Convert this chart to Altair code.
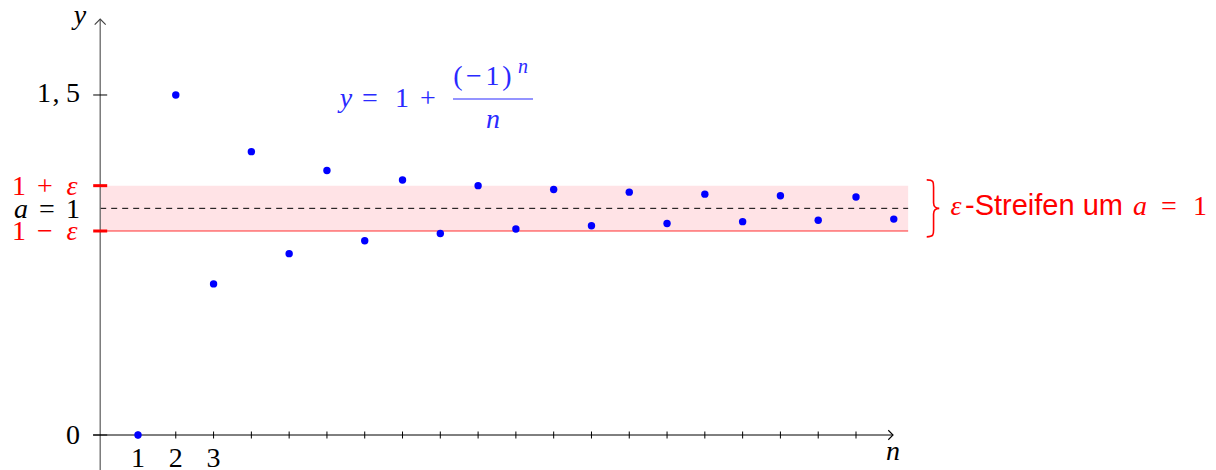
import altair as alt
import pandas as pd

# ---------------- data ----------------
n_values = list(range(1, 22))
y_values = [0.0, 1.5, 0.6667, 1.25, 0.8, 1.1667, 0.8571, 1.125, 0.8889, 1.1,
            0.9091, 1.0833, 0.9231, 1.0714, 0.9333, 1.0625, 0.9412, 1.0556,
            0.9474, 1.05, 0.9524]
a_value = 1.0
epsilon = 0.1
x_tick_values = list(range(1, 21))
x_tick_labels = ["1", "2", "3"]
y_tick_values = [0.0, 1.5]
band_end = 21.38
x_axis_start = -0.19
x_axis_end = 20.98
y_axis_top = 1.835

# ---------------- layout (pixel <-> data) ----------------
ORIGIN_X, PX_X = 100.2, 37.79
ORIGIN_Y, PX_Y = 435.0, 226.67
W, H = 1200, 462


def dx(px):
    return (px - ORIGIN_X) / PX_X


def dy(py):
    return (ORIGIN_Y - py) / PX_Y


XMIN, XMAX = dx(8), dx(8 + W)
YMAX, YMIN = dy(8), dy(8 + H)

xs = alt.Scale(domain=[XMIN, XMAX], nice=False, zero=False)
ys = alt.Scale(domain=[YMIN, YMAX], nice=False, zero=False)
X = alt.X("x:Q", scale=xs, axis=None)
Y = alt.Y("y:Q", scale=ys, axis=None)

RED = "#ff0000"
BLUE = "#0000ff"
FBLUE = "#2a2aff"
SERIF = "Liberation Serif"
SANS = "Liberation Sans"

layers = []

# epsilon band
band = pd.DataFrame({"x": [0.0], "x2": [band_end], "y": [a_value - epsilon], "y2": [a_value + epsilon]})
layers.append(alt.Chart(band).mark_rect(color="#ffe3e6").encode(
    x=X, x2="x2:Q", y=Y, y2="y2:Q"))

# lower band edge
low = pd.DataFrame({"x": [0.0], "x2": [band_end], "y": [a_value - epsilon]})
layers.append(alt.Chart(low).mark_rule(color="#ff3030", strokeWidth=1).encode(x=X, x2="x2:Q", y=Y))

# dashed a-line
aline = pd.DataFrame({"x": [0.0], "x2": [band_end], "y": [a_value]})
layers.append(alt.Chart(aline).mark_rule(color="black", strokeWidth=1, strokeDash=[6, 5]).encode(
    x=X, x2="x2:Q", y=Y))

# y axis
yax = pd.DataFrame({"x": [0.0], "y": [YMIN], "y2": [y_axis_top]})
layers.append(alt.Chart(yax).mark_rule(color="#666666", strokeWidth=1.3).encode(x=X, y=Y, y2="y2:Q"))
yarr = pd.DataFrame({"x": [0.0], "y": [y_axis_top]})
layers.append(alt.Chart(yarr).mark_point(shape="M -1 1 L 0 0 L 1 1", filled=False, color="#444444",
                                         strokeWidth=1.2, size=121, opacity=1).encode(x=X, y=Y))

# x axis
xax = pd.DataFrame({"x": [x_axis_start], "x2": [x_axis_end], "y": [0.0]})
layers.append(alt.Chart(xax).mark_rule(color="black", strokeWidth=1).encode(x=X, x2="x2:Q", y=Y))
xarr = pd.DataFrame({"x": [x_axis_end], "y": [0.0]})
layers.append(alt.Chart(xarr).mark_point(shape="M -1 -1 L 0 0 L -1 1", filled=False, color="black",
                                         strokeWidth=1.1, size=90, opacity=1).encode(x=X, y=Y))

# x ticks
xt = pd.DataFrame({"x": x_tick_values})
xt["y"] = -3.5 / PX_Y
xt["y2"] = 3.5 / PX_Y
layers.append(alt.Chart(xt).mark_rule(color="black", strokeWidth=1).encode(x=X, y=Y, y2="y2:Q"))

# y ticks
yt = pd.DataFrame({"y": y_tick_values})
yt["x"] = -7 / PX_X
yt["x2"] = 7 / PX_X
layers.append(alt.Chart(yt).mark_rule(color="black", strokeWidth=1).encode(x=X, x2="x2:Q", y=Y))

# red epsilon ticks
et = pd.DataFrame({"y": [a_value + epsilon, a_value - epsilon]})
et["x"] = -7 / PX_X
et["x2"] = 7 / PX_X
layers.append(alt.Chart(et).mark_rule(color=RED, strokeWidth=3).encode(x=X, x2="x2:Q", y=Y))

# points
pts = pd.DataFrame({"x": n_values, "y": y_values})
layers.append(alt.Chart(pts).mark_circle(size=55, color=BLUE, opacity=1).encode(x=X, y=Y))


def texts(rows, color, size=28, font=SERIF, style="normal", align="center"):
    df = pd.DataFrame(rows, columns=["px", "py", "t"])
    df["x"] = df["px"].map(dx)
    df["y"] = df["py"].map(dy)
    return alt.Chart(df).mark_text(font=font, fontSize=size, fontStyle=style, color=color,
                                   align=align, baseline="alphabetic").encode(x=X, y=Y, text="t:N")


# x tick labels
xl = pd.DataFrame({"x": x_tick_values[:3], "t": x_tick_labels})
xl["y"] = dy(467)
layers.append(alt.Chart(xl).mark_text(font=SERIF, fontSize=28, color="black", baseline="alphabetic").encode(
    x=X, y=Y, text="t:N"))

# y tick labels and left labels (upright black)
layers.append(texts([(44, 102, "1"), (56, 102, ","), (73, 102, "5"), (73, 444, "0"),
                     (47, 218, "="), (73, 218, "1")], "black"))
layers.append(texts([(21, 218, "a"), (80, 24, "y"), (893, 460, "n")], "black", style="italic"))

# red left labels
layers.append(texts([(19, 195, "1"), (45, 195, "+"), (19, 240, "1"), (45, 240, "\u2212")], RED))
layers.append(texts([(72, 195, "\u03b5"), (72, 240, "\u03b5")], RED, style="italic"))

# formula
layers.append(texts([(370, 107, "="), (402, 107, "1"), (428, 107, "+"),
                     (458, 85, "("), (474, 85, "\u2212"), (492.5, 85, "1"), (507, 85, ")")], FBLUE))
layers.append(texts([(346, 107, "y"), (493, 128, "n")], FBLUE, style="italic"))
layers.append(texts([(523, 73, "n")], FBLUE, size=20, style="italic"))
fbar = pd.DataFrame({"x": [dx(453)], "x2": [dx(533)], "y": [dy(99)]})
layers.append(alt.Chart(fbar).mark_rule(color=FBLUE, strokeWidth=1.2).encode(x=X, x2="x2:Q", y=Y))

# brace + stripe label
brace = pd.DataFrame({"x": [dx(933)], "y": [a_value]})
brace_path = ("M -0.22 -1 C 0.02 -1 0.02 -0.92 0.02 -0.75 L 0.02 -0.2 C 0.02 -0.06 0.1 0 0.22 0 "
              "C 0.1 0 0.02 0.06 0.02 0.2 L 0.02 0.75 C 0.02 0.92 0.02 1 -0.22 1")
layers.append(alt.Chart(brace).mark_point(shape=brace_path, filled=False, color=RED, strokeWidth=1.6,
                                          size=57 * 57, opacity=1).encode(x=X, y=Y))
layers.append(texts([(956, 215, "\u03b5"), (1140, 215, "a")], RED, style="italic"))
layers.append(texts([(965, 215, "-Streifen um")], RED, size=29, font=SANS, align="left"))
layers.append(texts([(1169, 215, "="), (1200, 215, "1")], RED))

chart = alt.layer(*layers).properties(
    width=W, height=H, padding=0, autosize="none", background="white"
).configure_view(stroke=None)

chart.save("out.html", embed_options={"renderer": "svg", "actions": False})
